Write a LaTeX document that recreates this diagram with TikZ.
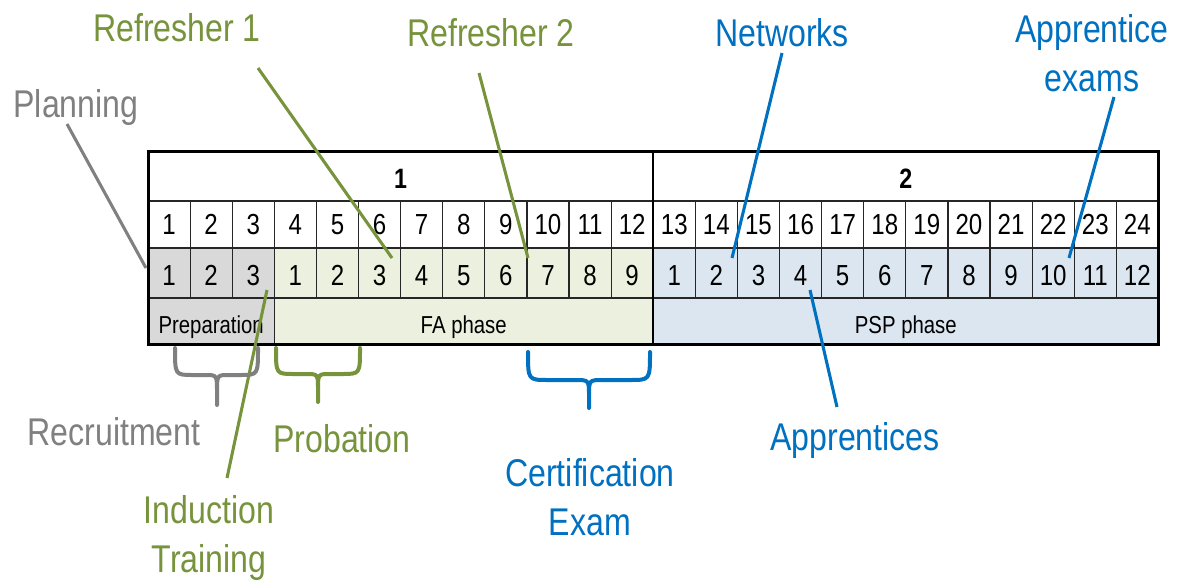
\documentclass[tikz,border=0pt]{standalone}
\usepackage{fontspec}
\setmainfont{Liberation Sans}[FakeStretch=0.83]
\definecolor{fagreen}{HTML}{77933C}
\definecolor{pspblue}{HTML}{0070C0}
\definecolor{plangray}{HTML}{808080}
\definecolor{prepfill}{HTML}{D9D9D9}
\definecolor{fafill}{HTML}{EBF1DE}
\definecolor{pspfill}{HTML}{DCE6F1}
\tikzset{
  num/.style={font=\fontsize{21.75pt}{26pt}\selectfont, anchor=base, inner sep=0pt},
  head/.style={font=\bfseries\fontsize{21pt}{26pt}\selectfont, anchor=base, inner sep=0pt},
  phase/.style={font=\fontsize{18.4pt}{22pt}\selectfont, anchor=base, inner sep=0pt},
  callout/.style={font=\fontsize{29pt}{36.75pt}\selectfont, anchor=base, inner sep=0pt, align=center},
  leader/.style={line width=2.3pt},
  curly/.style={line width=3pt, line cap=round, line join=round},
  thinrule/.style={line width=0.9pt, draw=black!85},
}
\begin{document}
\begin{tikzpicture}[x=0.75pt,y=-0.75pt]
\useasboundingbox (0,0) rectangle (1180,581);
\def\cw{42.1}
% phase fills (month row and phase row)
\fill[prepfill] (148,248) rectangle ({148+3*\cw},344);
\fill[fafill] ({148+3*\cw},248) rectangle ({148+12*\cw},344);
\fill[pspfill] ({148+12*\cw},248) rectangle ({148+24*\cw},344);
% horizontal rules
\foreach \yy in {201,248,298}
  \draw[thinrule] (148,\yy) -- ({148+24*\cw},\yy);
% vertical rules of week and month rows
\foreach \i in {1,...,23}
  \draw[thinrule] ({148+\i*\cw},201) -- ({148+\i*\cw},298);
% phase boundary between preparation and FA phase
\draw[thinrule] ({148+3*\cw},298) -- ({148+3*\cw},344);
% year boundary
\draw[line width=1.8pt] ({148+12*\cw},152) -- ({148+12*\cw},344);
% outer frame
\draw[line width=2.25pt] (148,152) rectangle ({148+24*\cw},344);
% year headers
\node[head] (yr-1) at ({148+6*\cw},188) {1};
\node[head] (yr-2) at ({148+18*\cw},188) {2};
% week numbers and month numbers
\foreach \i in {1,...,24}{
  \node[num] (wk-\i) at ({148+(\i-0.5)*\cw},234) {\i};
  \pgfmathtruncatemacro{\m}{\i<=3 ? \i : (\i<=12 ? \i-3 : \i-12)}
  \node[num] (mo-\i) at ({148+(\i-0.5)*\cw},285) {\m};
}
% phase names
\node[phase] (prep) at ({148+1.5*\cw},333) {Preparation};
\node[phase] (fa) at ({148+7.5*\cw},333) {FA phase};
\node[phase] (psp) at ({148+18*\cw},333) {PSP phase};

% callout labels (base = baseline of the last line)
\node[callout, text=plangray] (planning) at (76,118) {Planning};
\node[callout, text=fagreen] (ref1) at (177,42) {Refresher 1};
\node[callout, text=fagreen] (ref2) at (491,47) {Refresher 2};
\node[callout, text=pspblue] (networks) at (782,47) {Networks};
\node[callout, text=pspblue] (appex) at (1092,92) {Apprentice\\exams};
\node[callout, text=plangray] (recruit) at (114,445) {Recruitment};
\node[callout, text=fagreen] (probation) at (342,452) {Probation};
\node[callout, text=fagreen] (induction) at (209,572) {Induction\\Training};
\node[callout, text=pspblue] (cert) at (590,535) {Certification\\Exam};
\node[callout, text=pspblue] (appr) at (855,450) {Apprentices};

% leader end points
\coordinate (planning-a) at (67,124);   \coordinate (planning-b) at (146,268);
\coordinate (ref1-a) at (258,68);       \coordinate (ref1-b) at (392,258);
\coordinate (ref2-a) at (479,73);       \coordinate (ref2-b) at (528,258);
\coordinate (networks-a) at (782,53);   \coordinate (networks-b) at (732,258);
\coordinate (appex-a) at (1114,97);     \coordinate (appex-b) at (1069,258);
\coordinate (appr-a) at (837,407);      \coordinate (appr-b) at (810,290);
\coordinate (induction-a) at (227,478); \coordinate (induction-b) at (267,290);

% leaders
\draw[leader, plangray] (planning-a) -- (planning-b);
\draw[leader, fagreen] (ref1-a) -- (ref1-b);
\draw[leader, fagreen] (ref2-a) -- (ref2-b);
\draw[leader, pspblue] (networks-a) -- (networks-b);
\draw[leader, pspblue] (appex-a) -- (appex-b);
\draw[leader, pspblue] (appr-a) -- (appr-b);
\draw[leader, fagreen] (induction-a) -- (induction-b);

% curly braces under the table
% recruitment
\draw[curly, plangray] (175,348) .. controls (175,375) and (175,375) .. (193,375) -- (205,375)
  .. controls (217,375) .. (217,392) -- (217,405)
  (217,392) .. controls (217,375) .. (229,375) -- (240,375)
  .. controls (258,375) and (258,375) .. (258,348);
% probation
\draw[curly, fagreen] (276,348) .. controls (276,374) and (276,374) .. (294,374) -- (306,374)
  .. controls (318,374) .. (318,390) -- (318,402)
  (318,390) .. controls (318,374) .. (330,374) -- (342,374)
  .. controls (360,374) and (360,374) .. (360,348);
% certification exam
\draw[curly, pspblue] (528,352) .. controls (528,380) and (528,380) .. (548,380) -- (575,380)
  .. controls (589,380) .. (589,396) -- (589,408)
  (589,396) .. controls (589,380) .. (603,380) -- (630,380)
  .. controls (650,380) and (650,380) .. (650,352);
\end{tikzpicture}
\end{document}
